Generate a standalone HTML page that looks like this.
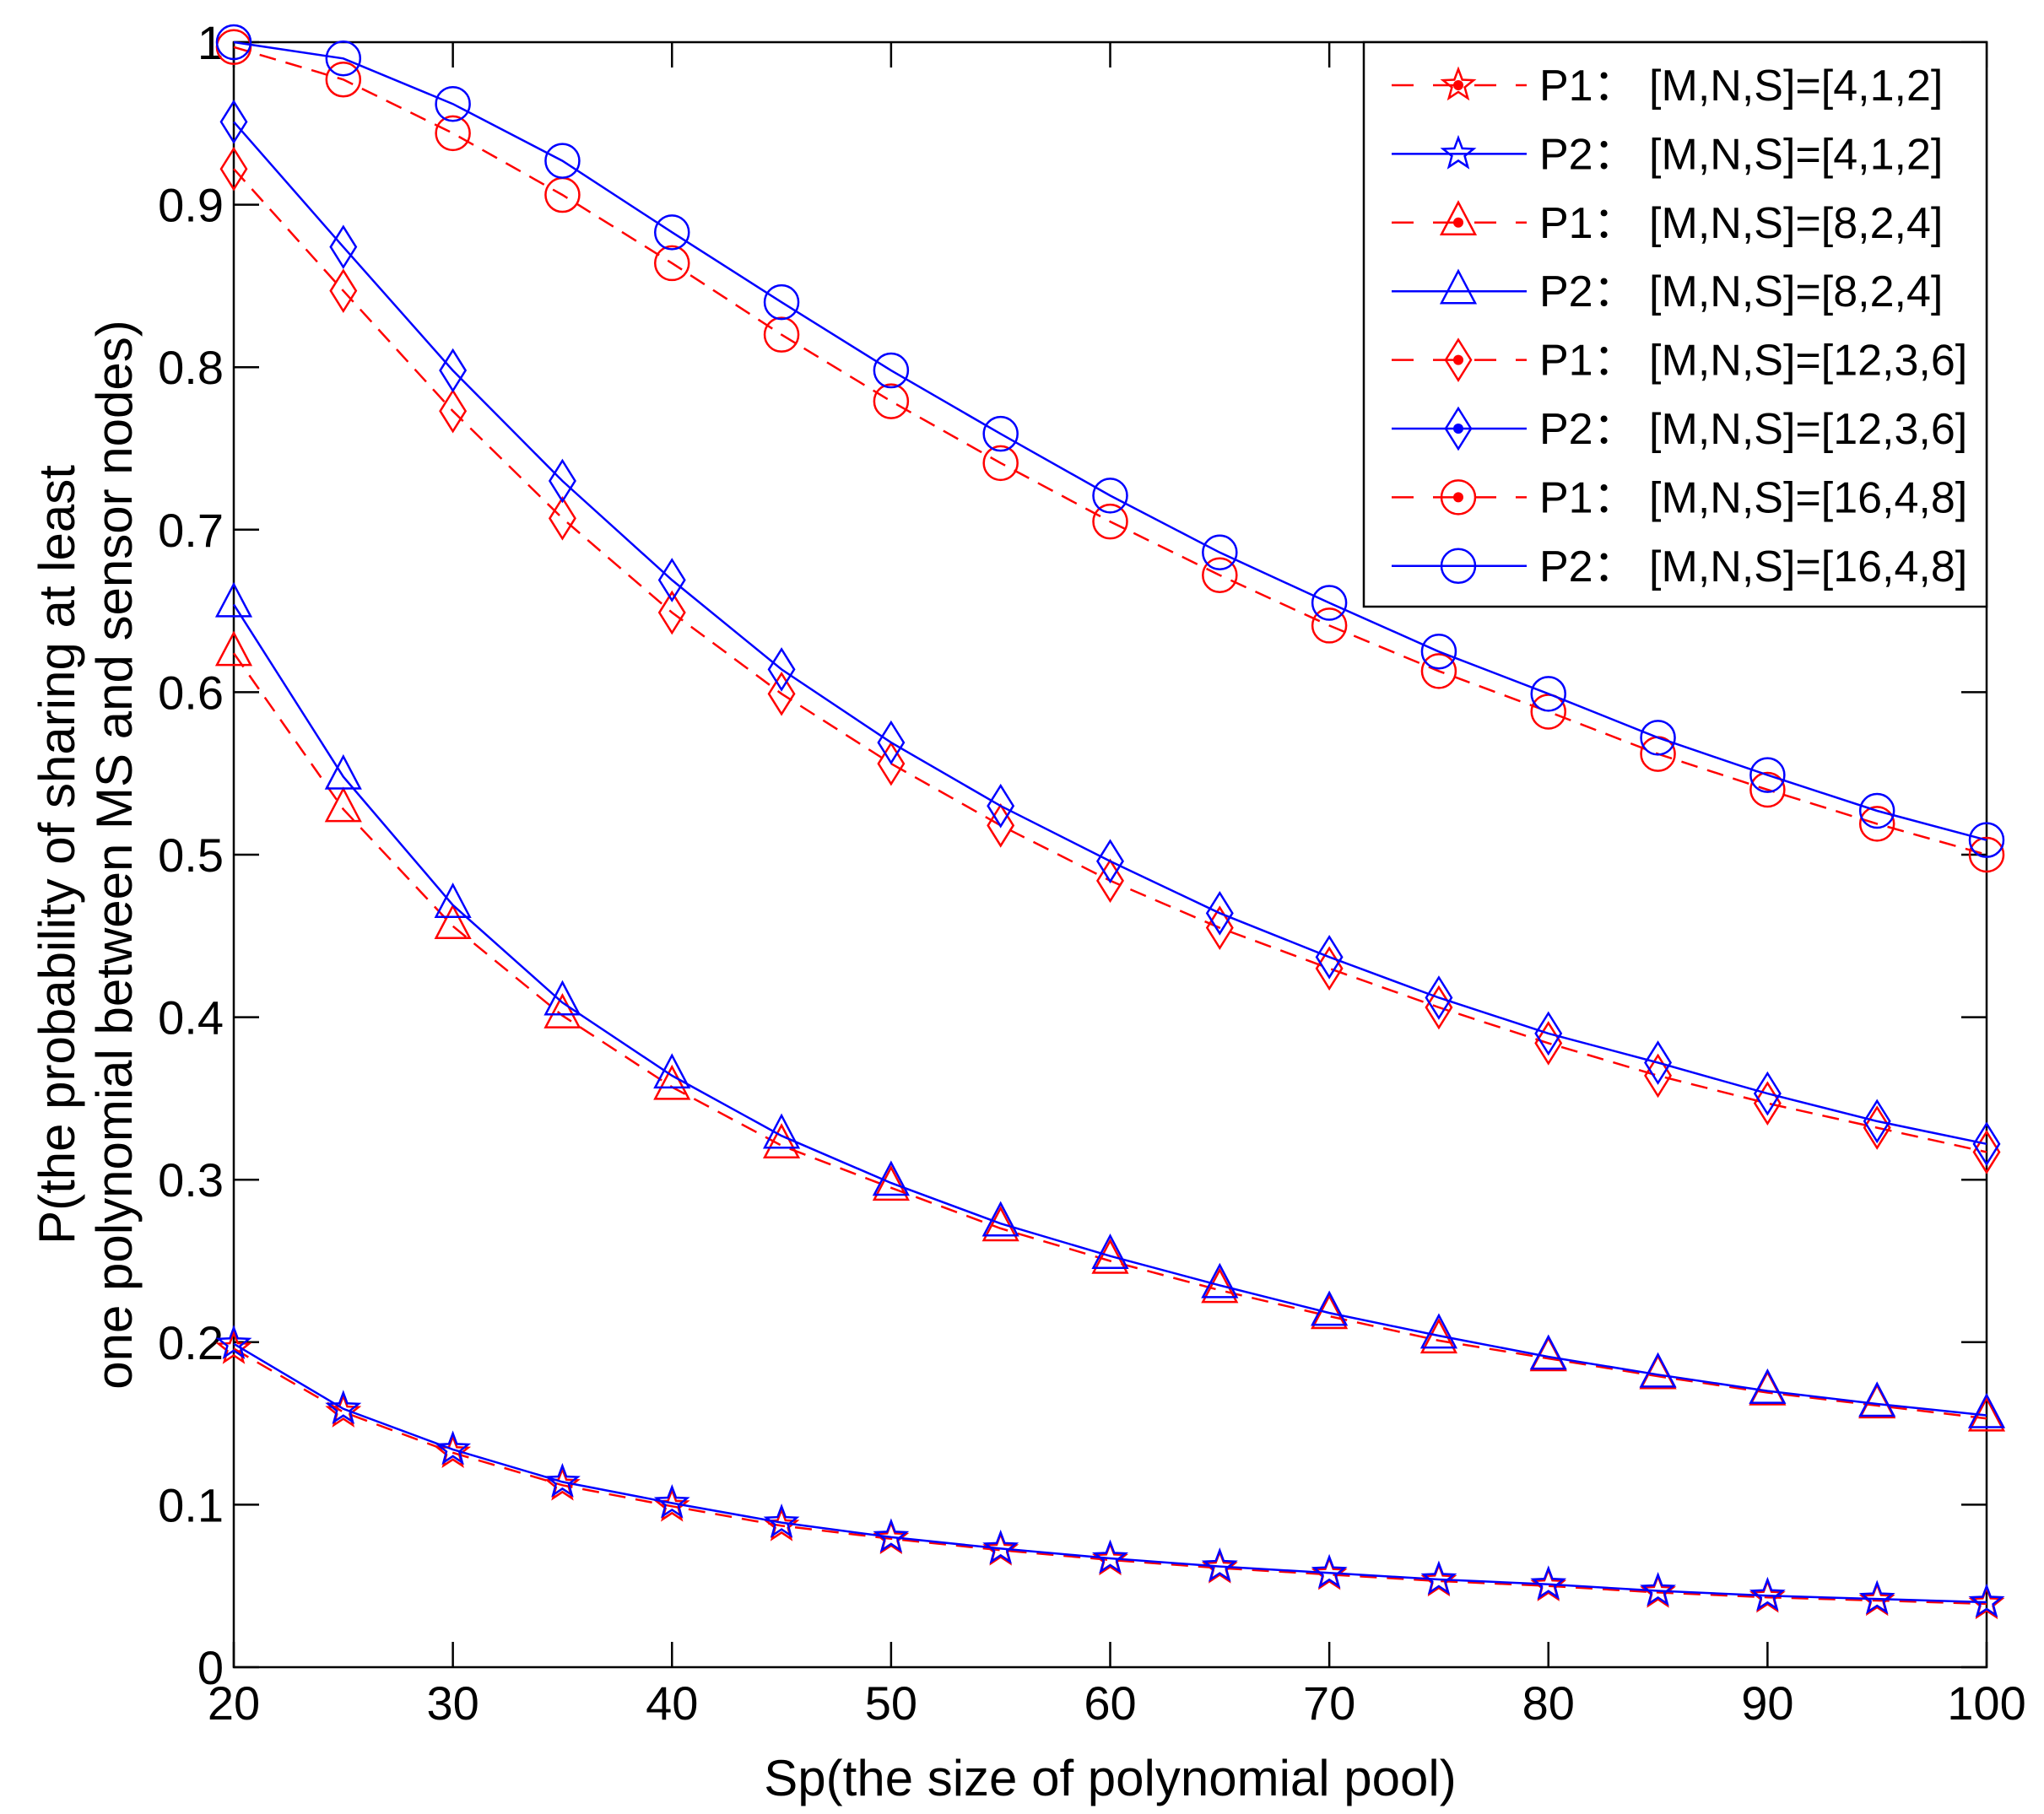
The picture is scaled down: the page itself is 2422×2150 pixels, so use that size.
<!DOCTYPE html>
<html><head><meta charset="utf-8"><style>
html,body{margin:0;padding:0;background:#fff;}
svg{display:block;font-family:"Liberation Sans",Arial,sans-serif;}
.tick{font-family:"Liberation Sans Narrow","Liberation Sans",Arial,sans-serif;}
</style></head><body>
<svg id="chart" width="2422" height="2150" viewBox="0 0 2422 2150" xmlns="http://www.w3.org/2000/svg"></svg>
<script>
const xValues=[20,25,30,35,40,45,50,55,60,65,70,75,80,85,90,95,100];
const p2_1648=[1.0,0.99,0.962,0.927,0.883,0.840,0.798,0.759,0.721,0.686,0.655,0.625,0.599,0.572,0.549,0.527,0.509];
const p1_1648=[0.997,0.977,0.944,0.906,0.864,0.820,0.779,0.741,0.705,0.672,0.641,0.613,0.588,0.562,0.540,0.519,0.500];
const p2_1236=[0.951,0.874,0.798,0.730,0.669,0.614,0.569,0.530,0.496,0.464,0.437,0.412,0.390,0.372,0.353,0.336,0.322];
const p1_1236=[0.922,0.847,0.773,0.707,0.649,0.599,0.556,0.518,0.484,0.455,0.430,0.406,0.384,0.364,0.347,0.332,0.317];
const p2_824=[0.654,0.548,0.469,0.409,0.364,0.327,0.298,0.273,0.253,0.235,0.218,0.204,0.191,0.180,0.170,0.162,0.155];
const p1_824=[0.624,0.528,0.456,0.401,0.357,0.321,0.295,0.270,0.250,0.232,0.216,0.201,0.190,0.179,0.169,0.161,0.153];
const p2_412=[0.199,0.159,0.134,0.114,0.101,0.089,0.080,0.073,0.067,0.062,0.058,0.054,0.051,0.047,0.044,0.042,0.040];
const p1_412=[0.196,0.157,0.132,0.112,0.099,0.087,0.079,0.072,0.066,0.061,0.057,0.053,0.050,0.046,0.043,0.041,0.039];
const xTicks=[20,30,40,50,60,70,80,90,100];
const yTicks=[0,0.1,0.2,0.3,0.4,0.5,0.6,0.7,0.8,0.9,1];
const yTickLabels=["0","0.1","0.2","0.3","0.4","0.5","0.6","0.7","0.8","0.9","1"];
const legendLabels=["P1：  [M,N,S]=[4,1,2]","P2：  [M,N,S]=[4,1,2]","P1：  [M,N,S]=[8,2,4]","P2：  [M,N,S]=[8,2,4]","P1：  [M,N,S]=[12,3,6]","P2：  [M,N,S]=[12,3,6]","P1：  [M,N,S]=[16,4,8]","P2：  [M,N,S]=[16,4,8]"];

const L=277,R=2354,T=50,B=1976;
const sx=v=>L+(v-20)/80*(R-L);
const sy=v=>B-v*(B-T);
const NS="http://www.w3.org/2000/svg";
const svg=document.getElementById('chart');
function mk(tag,attrs,parent){const e=document.createElementNS(NS,tag);for(const k in attrs)e.setAttribute(k,attrs[k]);(parent||svg).appendChild(e);return e;}

function marker(g,type,x,y,color,dot){
  let m;
  if(type==='circle'){m=mk('ellipse',{cx:x,cy:y,rx:20,ry:20,fill:'none',stroke:color,'stroke-width':2.5},g);}
  else if(type==='diamond'){m=mk('polygon',{points:`${x},${y-24} ${x+15},${y} ${x},${y+24} ${x-15},${y}`,fill:'none',stroke:color,'stroke-width':2.5},g);}
  else if(type==='triangle'){m=mk('polygon',{points:`${x},${y-24} ${x+20},${y+14} ${x-20},${y+14}`,fill:'none',stroke:color,'stroke-width':2.5},g);}
  else {let p=[];for(let i=0;i<10;i++){const a=-Math.PI/2+i*Math.PI/5;const r=i%2?8:19;p.push((x+r*Math.cos(a)).toFixed(1)+','+(y+r*Math.sin(a)).toFixed(1));}
    m=mk('polygon',{points:p.join(' '),fill:'none',stroke:color,'stroke-width':2.5},g);}
  
  
  if(dot){const d=mk('circle',{cx:x,cy:y,r:6,fill:color},g);
    
    }
}

const box=mk('rect',{x:L,y:T,width:R-L,height:B-T,fill:'none',stroke:'#000','stroke-width':2.5});


xTicks.forEach(v=>{
  const x=sx(v);
  const t1=mk('line',{x1:x,y1:B,x2:x,y2:B-30,stroke:'#000','stroke-width':2.5});
  
  
  const t2=mk('line',{x1:x,y1:T,x2:x,y2:T+30,stroke:'#000','stroke-width':2.5});
  
  
  const tx=mk('text',{x:x,y:B+62,'font-size':56,'text-anchor':'middle',fill:'#000','class':'tick'});
  tx.textContent=v;
  
  
});
yTicks.forEach((v,i)=>{
  const y=sy(v);
  const t1=mk('line',{x1:L,y1:y,x2:L+30,y2:y,stroke:'#000','stroke-width':2.5});
  
  
  const t2=mk('line',{x1:R,y1:y,x2:R-30,y2:y,stroke:'#000','stroke-width':2.5});
  
  
  const tx=mk('text',{x:L-12,y:y+20,'font-size':56,'text-anchor':'end',fill:'#000','class':'tick'});
  tx.textContent=yTickLabels[i];
  
  
});

const series=[
  {d:p1_412,c:'#ff0000',dash:true,m:'star'},{d:p2_412,c:'#0000ff',dash:false,m:'star'},
  {d:p1_824,c:'#ff0000',dash:true,m:'triangle'},{d:p2_824,c:'#0000ff',dash:false,m:'triangle'},
  {d:p1_1236,c:'#ff0000',dash:true,m:'diamond'},{d:p2_1236,c:'#0000ff',dash:false,m:'diamond'},
  {d:p1_1648,c:'#ff0000',dash:true,m:'circle'},{d:p2_1648,c:'#0000ff',dash:false,m:'circle'}
];
series.forEach((s,si)=>{
  const g=mk('g',{});
  
  
  const pts=s.d.map((v,i)=>sx(xValues[i]).toFixed(1)+','+sy(v).toFixed(1)).join(' ');
  const pl=mk('polyline',{points:pts,fill:'none',stroke:s.c,'stroke-width':2.5,'stroke-dasharray':s.dash?'20,12':'none'},g);
  
  
  s.d.forEach((v,i)=>marker(g,s.m,sx(xValues[i]),sy(v),s.c,false));
});

const lg=mk('g',{});


const lr=mk('rect',{x:1616,y:T,width:R-1616,height:669,fill:'#fff',stroke:'#000','stroke-width':2.5},lg);


legendLabels.forEach((lab,i)=>{
  const s=series[i];const y=101+i*81.4;
  const e=mk('g',{},lg);
  
  
  mk('line',{x1:1649,y1:y,x2:1809,y2:y,stroke:s.c,'stroke-width':2.5,'stroke-dasharray':s.dash?'26,23':'none'},e);
  marker(e,s.m,1728,y,s.c,s.dash||i===5);
  const t=mk('text',{x:1824,y:y+18,'font-size':52,fill:'#000','xml:space':'preserve'},e);
  t.textContent=lab;
  
  
});

const xl=mk('text',{x:(L+R)/2,y:2128,'font-size':60,'text-anchor':'middle',fill:'#000'});
xl.textContent='Sp(the size of polynomial pool)';


const yl=mk('text',{transform:'translate(88,1013) rotate(-90)','font-size':60,'text-anchor':'middle',fill:'#000'});


const ts1=mk('tspan',{x:0,y:0},yl);ts1.textContent='P(the probability of sharing at least';
const ts2=mk('tspan',{x:0,y:68},yl);ts2.textContent='one polynomial between MS and sensor nodes)';
</script>
</body></html>
